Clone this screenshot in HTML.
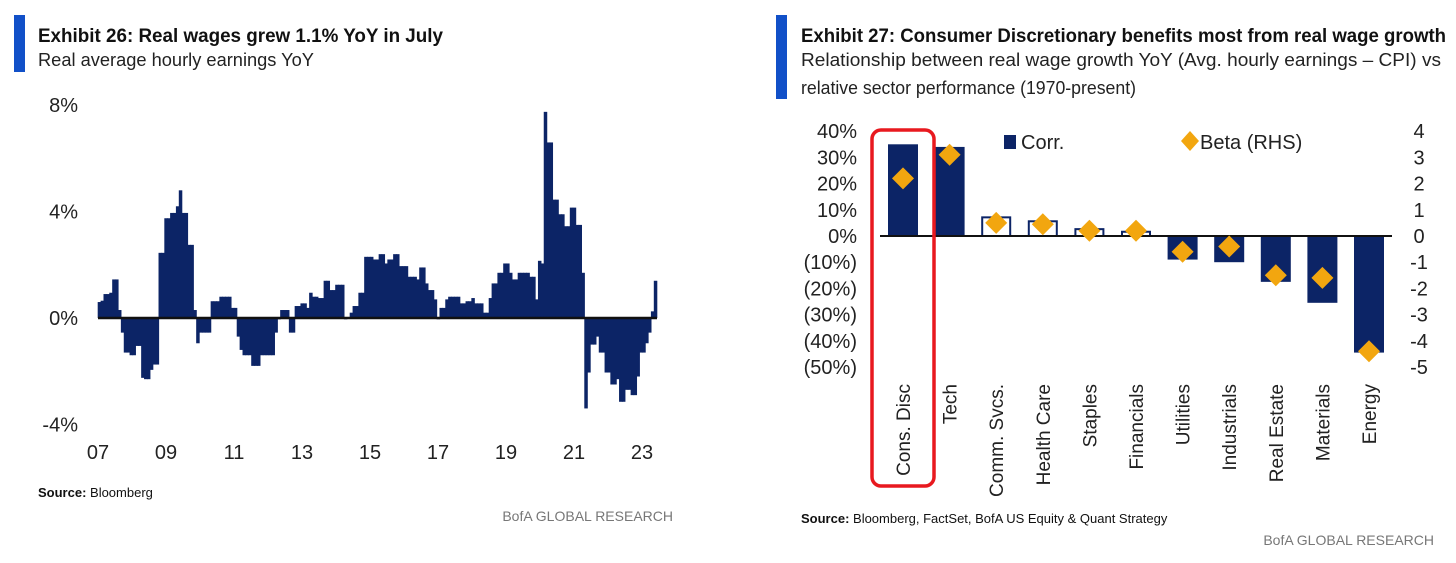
<!DOCTYPE html>
<html><head><meta charset="utf-8"><style>
html,body{margin:0;padding:0;background:#fff}
svg{display:block;font-family:"Liberation Sans",sans-serif}
</style></head><body>
<svg id="s" width="1456" height="563" viewBox="0 0 1456 563">
<g>
<rect x="14" y="15" width="11" height="57" fill="#1150c8"/>
<text x="38" y="42" font-size="19" font-weight="bold" fill="#111" textLength="405" lengthAdjust="spacingAndGlyphs">Exhibit 26: Real wages grew 1.1% YoY in July</text>
<text x="38" y="66" font-size="18" fill="#222" textLength="276" lengthAdjust="spacingAndGlyphs">Real average hourly earnings YoY</text>
</g>
<g id="left"></g>
<text x="38" y="497" font-size="13" fill="#111"><tspan font-weight="bold">Source:</tspan> Bloomberg</text>
<text x="673" y="521" font-size="14" fill="#777" text-anchor="end">BofA GLOBAL RESEARCH</text>

<g>
<rect x="776" y="15" width="11" height="84" fill="#1150c8"/>
<text x="801" y="42" font-size="19" font-weight="bold" fill="#111" textLength="645" lengthAdjust="spacingAndGlyphs">Exhibit 27: Consumer Discretionary benefits most from real wage growth</text>
<text x="801" y="66" font-size="18" fill="#222" textLength="640" lengthAdjust="spacingAndGlyphs">Relationship between real wage growth YoY (Avg. hourly earnings – CPI) vs</text>
<text x="801" y="94" font-size="18" fill="#222" textLength="335" lengthAdjust="spacingAndGlyphs">relative sector performance (1970-present)</text>
</g>
<g id="right"></g>
<text x="801" y="523" font-size="13" fill="#111"><tspan font-weight="bold">Source:</tspan> Bloomberg, FactSet, BofA US Equity &amp; Quant Strategy</text>
<text x="1434" y="545" font-size="14" fill="#777" text-anchor="end">BofA GLOBAL RESEARCH</text>
</svg>
<script>
const wageValues = [0.6,0.65,0.9,0.9,0.95,1.45,1.45,0.3,-0.55,-1.3,-1.3,-1.4,-1.4,-1.05,-1.05,-2.25,-2.3,-2.3,-1.95,-1.75,-1.75,2.45,2.45,3.75,3.75,3.95,3.95,4.2,4.8,3.95,3.95,2.75,2.75,0.3,-0.95,-0.55,-0.55,-0.55,-0.55,0.63,0.63,0.63,0.8,0.8,0.8,0.8,0.38,0.38,-0.7,-1.2,-1.4,-1.4,-1.4,-1.8,-1.8,-1.8,-1.4,-1.4,-1.4,-1.4,-1.4,-0.55,-0.05,0.3,0.3,0.3,-0.55,-0.55,0.45,0.45,0.55,0.55,0.38,0.95,0.8,0.8,0.75,0.75,1.4,1.4,1.05,1.05,1.25,1.25,1.25,-0.05,0.0,0.2,0.45,0.45,0.95,0.95,2.3,2.3,2.3,2.2,2.2,2.4,2.4,2.05,2.2,2.2,2.4,2.4,1.95,1.95,1.95,1.55,1.55,1.55,1.45,1.9,1.9,1.3,1.05,1.05,0.7,-0.05,0.38,0.38,0.7,0.8,0.8,0.8,0.8,0.55,0.55,0.63,0.63,0.75,0.55,0.55,0.55,0.2,0.2,0.75,1.3,1.3,1.7,1.7,2.05,2.05,1.7,1.45,1.45,1.7,1.7,1.7,1.7,1.55,1.55,0.7,2.15,2.05,7.75,6.6,6.6,4.45,4.45,3.9,3.9,3.45,3.45,4.15,4.15,3.5,3.5,1.7,-3.4,-2.05,-1.0,-1.0,-0.7,-1.3,-1.3,-2.05,-2.05,-2.5,-2.5,-2.3,-3.15,-3.15,-2.7,-2.7,-2.9,-2.9,-2.2,-1.3,-1.3,-0.95,-0.55,0.25,1.4];
const leftYTicks = [8,4,0,-4];
const leftYLabels = ["8%","4%","0%","-4%"];
const leftXLabels = ["07","09","11","13","15","17","19","21","23"];

const sectors = ["Cons. Disc","Tech","Comm. Svcs.","Health Care","Staples","Financials","Utilities","Industrials","Real Estate","Materials","Energy"];
const corrValues = [35,34,7.5,6,3,2,-9,-10,-17.5,-25.5,-44.5];
const betaValues = [2.2,3.1,0.5,0.45,0.2,0.2,-0.6,-0.4,-1.5,-1.6,-4.4];
const corrTicks = [40,30,20,10,0,-10,-20,-30,-40,-50];
const corrTickLabels = ["40%","30%","20%","10%","0%","(10%)","(20%)","(30%)","(40%)","(50%)"];
const betaTicks = [4,3,2,1,0,-1,-2,-3,-4,-5];

const NS="http://www.w3.org/2000/svg";
function mk(parent,tag,attrs,text){const e=document.createElementNS(NS,tag);for(const k in attrs)e.setAttribute(k,attrs[k]);if(text!==undefined)e.textContent=text;parent.appendChild(e);return e;}

// Left chart
const L=document.getElementById('left');
const lx0=98,lx1=657,ly0=318,lpx=26.6;
const nMonths=wageValues.length;
const lxs=i=>lx0+(lx1-lx0)*i/nMonths;
const lys=v=>ly0-v*lpx;
const yearX=y=>lx0+(y-2007)*34.0;
leftYTicks.forEach((t,i)=>{
  const e=mk(L,'text',{x:78,y:lys(t)+7,'font-size':20,fill:'#222','text-anchor':'end'},leftYLabels[i]);
  
  
});
leftXLabels.forEach((t,i)=>{
  const e=mk(L,'text',{x:yearX(2007+2*i),y:459,'font-size':20,fill:'#222','text-anchor':'middle'},t);
  
  
});
const step=(lx1-lx0)/nMonths;
wageValues.forEach((v,i)=>{
  const y=Math.min(lys(v),ly0),h=Math.abs(lys(v)-ly0);
  const e=mk(L,'rect',{x:lxs(i)-0.3,y:y,width:step+0.6,height:Math.max(h,1),fill:'#0c2466'});
  
  
});
const lz=mk(L,'line',{x1:lx0,x2:lx1,y1:ly0,y2:ly0,stroke:'#111','stroke-width':2.5});



// Right chart
const R=document.getElementById('right');
const ry0=236,rpx=2.62,bpx=26.2,cx0=903,cstep=46.6,bw=30;
const rys=v=>ry0-v*rpx;
const bys=v=>ry0-v*bpx;
const cxs=i=>cx0+i*cstep;
corrTicks.forEach((t,i)=>{
  const e=mk(R,'text',{x:857,y:rys(t)+7,'font-size':20,fill:'#222','text-anchor':'end'},corrTickLabels[i]);
  
  
});
betaTicks.forEach(t=>{
  const e=mk(R,'text',{x:1419,y:bys(t)+7,'font-size':20,fill:'#222','text-anchor':'middle'},String(t));
  
  
});
corrValues.forEach((v,i)=>{
  const y=Math.min(rys(v),ry0),h=Math.abs(rys(v)-ry0);
  const small=Math.abs(v)<10&&v>0;
  const e=mk(R,'rect',small?{x:cxs(i)-bw/2+1,y:y+1,width:bw-2,height:Math.max(h-1,1),fill:'#fff',stroke:'#0c2466','stroke-width':2}:{x:cxs(i)-bw/2,y:y,width:bw,height:h,fill:'#0c2466'});
  
  
});
const rz=mk(R,'line',{x1:880,x2:1392,y1:ry0,y2:ry0,stroke:'#111','stroke-width':2});


betaValues.forEach((v,i)=>{
  const x=cxs(i),y=bys(v),d=11;
  const e=mk(R,'polygon',{points:`${x},${y-d} ${x+d},${y} ${x},${y+d} ${x-d},${y}`,fill:'#f2a60f'});
  
  
});
sectors.forEach((s,i)=>{
  const x=cxs(i)+7,y=384;
  const e=mk(R,'text',{x:x,y:y,'font-size':19,fill:'#222','text-anchor':'end',transform:`rotate(-90 ${x} ${y})`},s);
  
  
});
const box=mk(R,'rect',{x:872,y:130,width:62,height:356,rx:9,fill:'none',stroke:'#e8191f','stroke-width':3.5});


const lg1=mk(R,'rect',{x:1004,y:135,width:12,height:14,fill:'#0c2466'});


const lt1=mk(R,'text',{x:1021,y:149,'font-size':20,fill:'#222'},'Corr.');


const lg2=mk(R,'polygon',{points:'1190,131 1199,141 1190,151 1181,141',fill:'#f2a60f'});


const lt2=mk(R,'text',{x:1200,y:149,'font-size':20,fill:'#222'},'Beta (RHS)');


</script>
</body></html>
